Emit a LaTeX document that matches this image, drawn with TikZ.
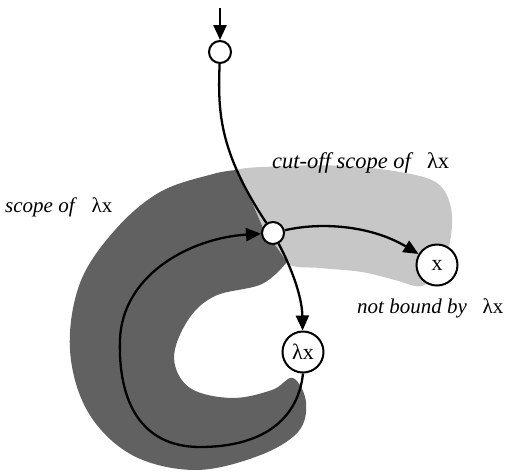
\documentclass[tikz,border=0pt]{standalone}
\usepackage{fontspec}
\setmainfont{Liberation Serif}
\usetikzlibrary{arrows.meta}
\begin{document}
\begin{tikzpicture}[x=1pt,y=-1pt,
  conn/.style={line width=2.3pt},
  arr/.style={conn,-{Triangle[length=15pt,width=13pt]}},
  smallnode/.style={circle,draw,line width=2pt,fill=white,minimum size=22pt,inner sep=0pt},
  bignode/.style={circle,draw,line width=2pt,fill=white,minimum size=41pt,inner sep=0pt,font=\fontsize{22}{24}\selectfont},
  lbl/.style={inner sep=0pt},
  darkscope/.style={fill=black!62},
  lightscope/.style={fill=black!22}]
\useasboundingbox (0,0) rectangle (509,475);
% light cut-off scope region
\fill[lightscope] plot[smooth cycle,tension=0.6] coordinates {(232,172) (290,166) (345,166) (400,172) (437,183) (451,208) (450,242) (440,268) (422,286) (395,280) (362,272) (320,268) (288,264) (268,238) (248,200)};
% dark scope region
\fill[darkscope] (238,170) -- (263,228) -- (287,262) -- plot[smooth,tension=0.6] coordinates {(287,262) (262,284) (215,296) (188,320) (174,358) (190,388) (232,398) (272,390) (293,378) (306,402) (298,432) (258,456) (195,470) (132,455) (88,412) (70,350) (80,283) (115,230) (160,192) (213,174) (238,170)} -- cycle;
% nodes
\coordinate (in) at (220,8);
\node[smallnode] (top) at (220,52) {};
\node[smallnode] (j) at (273,233) {};
\node[bignode] (xn) at (437,265) {x};
\node[bignode] (lam) at (303,352) {λx};
% connectors
\draw[arr] (in) -- (top);
\draw[conn] (top) .. controls (218,110) and (218,150) .. (j);
\draw[arr] (j) .. controls (320,222) and (370,225) .. (xn);
\draw[arr] (j) .. controls (290,265) and (302,295) .. (lam);
\draw[arr] (lam.south) .. controls (298,420) and (262,447) .. (200,447)
  .. controls (140,447) and (118,400) .. (120,340)
  .. controls (122,275) and (190,238) .. (j);
% labels
\node[lbl,anchor=base west,font=\fontsize{21}{23}\selectfont] (l1) at (5,212) {\textit{scope of}\hspace{0.7em}λx};
\node[lbl,anchor=base west,font=\fontsize{22.5}{25}\selectfont] (l2) at (272,168) {\textit{cut-off scope of}\hspace{0.6em}λx};
\node[lbl,anchor=base west,font=\fontsize{21}{23}\selectfont] (l3) at (357,313) {\textit{not bound by}\hspace{0.75em}λx};
\end{tikzpicture}
\end{document}
